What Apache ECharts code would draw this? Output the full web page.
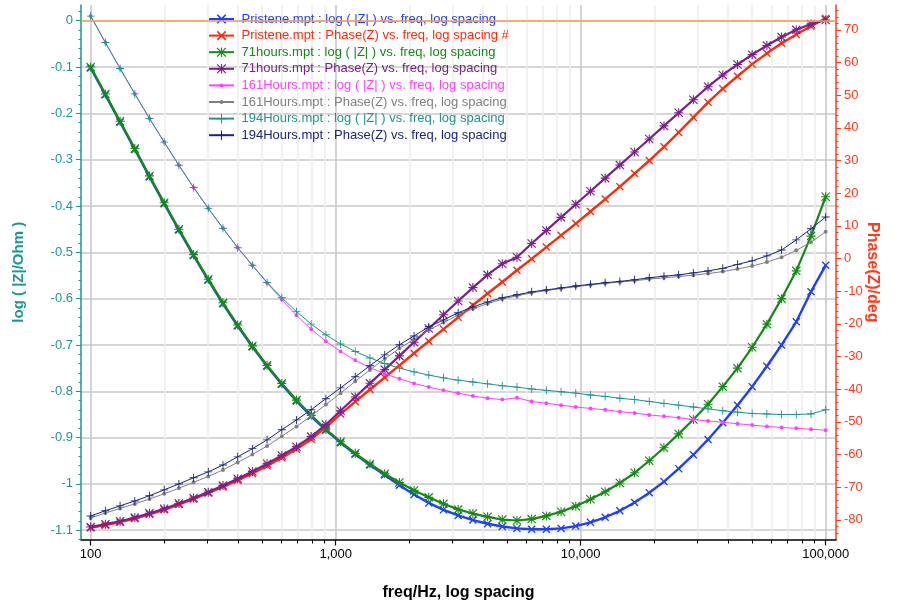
<!DOCTYPE html>
<html><head><meta charset="utf-8">
<script src="https://cdn.jsdelivr.net/npm/echarts@6/dist/echarts.min.js"></script>
<style>html,body{margin:0;padding:0;background:#fff}#c{width:905px;height:602px}</style>
</head><body><div id="c"></div>
<script>
// ---------- data ----------
const freq = [100, 114.8, 131.8, 151.4, 173.8, 199.5, 229.1, 263.0, 302.0, 346.7,
  398.1, 457.1, 524.8, 602.6, 691.8, 794.3, 912.0, 1047, 1202, 1380,
  1585, 1820, 2089, 2399, 2754, 3162, 3631, 4169, 4786, 5495,
  6310, 7244, 8318, 9550, 10965, 12589, 14454, 16596, 19055, 21878,
  25119, 28840, 33113, 38019, 43652, 50119, 57544, 66069, 75858, 87096, 100000];

const seriesNames = [
  'Pristene.mpt : log ( |Z| ) vs. freq, log spacing',
  'Pristene.mpt : Phase(Z) vs. freq, log spacing #',
  '71hours.mpt : log ( |Z| ) vs. freq, log spacing',
  '71hours.mpt : Phase(Z) vs. freq, log spacing',
  '161Hours.mpt : log ( |Z| ) vs. freq, log spacing',
  '161Hours.mpt : Phase(Z) vs. freq, log spacing',
  '194Hours.mpt : log ( |Z| ) vs. freq, log spacing',
  '194Hours.mpt : Phase(Z) vs. freq, log spacing'
];

const pristeneLogZ = [-0.102, -0.160, -0.219, -0.278, -0.337, -0.395, -0.452, -0.507, -0.560, -0.611,
  -0.659, -0.704, -0.746, -0.785, -0.821, -0.854, -0.884, -0.911, -0.936, -0.959,
  -0.981, -1.003, -1.023, -1.041, -1.056, -1.068, -1.078, -1.086, -1.092, -1.096,
  -1.098, -1.098, -1.096, -1.091, -1.083, -1.072, -1.058, -1.040, -1.019, -0.995,
  -0.967, -0.937, -0.904, -0.868, -0.830, -0.790, -0.746, -0.700, -0.650, -0.585, -0.528];

const pristenePhase = [-82.4, -81.6, -80.7, -79.6, -78.3, -76.9, -75.3, -73.6, -71.8, -69.9,
  -67.9, -65.8, -63.5, -61.0, -58.4, -55.3, -51.6, -47.6, -43.8, -40.1,
  -36.4, -32.7, -29.0, -25.3, -21.6, -18.0, -14.3, -10.7, -7.2, -3.6,
  -0.1, 3.5, 7.1, 10.7, 14.4, 18.2, 22.0, 26.0, 30.0, 34.2,
  38.6, 43.2, 47.8, 52.0, 55.8, 59.5, 62.8, 65.9, 68.6, 71.1, 73.5];

const h71LogZ = [-0.100, -0.158, -0.217, -0.276, -0.335, -0.393, -0.450, -0.505, -0.558, -0.609,
  -0.657, -0.702, -0.744, -0.783, -0.819, -0.852, -0.882, -0.909, -0.934, -0.957,
  -0.978, -0.997, -1.014, -1.029, -1.043, -1.055, -1.064, -1.071, -1.077, -1.079,
  -1.076, -1.069, -1.060, -1.048, -1.033, -1.017, -0.998, -0.976, -0.950, -0.922,
  -0.892, -0.861, -0.828, -0.790, -0.750, -0.705, -0.655, -0.600, -0.540, -0.465, -0.380];

const h71Phase = [-82.2, -81.3, -80.4, -79.3, -78.0, -76.6, -75.0, -73.3, -71.5, -69.5,
  -67.4, -65.2, -62.8, -60.3, -57.6, -54.5, -50.8, -46.6, -42.4, -38.2,
  -34.0, -29.8, -25.6, -21.4, -17.2, -13.0, -8.9, -5.0, -1.6, 0.4,
  4.6, 8.6, 12.6, 16.6, 20.6, 24.6, 28.6, 32.6, 36.6, 40.6,
  44.6, 48.6, 52.6, 56.2, 59.4, 62.4, 65.2, 67.8, 70.0, 71.8, 73.0];

const h161LogZ = [0.010, -0.047, -0.103, -0.158, -0.211, -0.262, -0.312, -0.360, -0.405, -0.448,
  -0.490, -0.528, -0.566, -0.602, -0.636, -0.666, -0.692, -0.714, -0.733, -0.749,
  -0.762, -0.773, -0.783, -0.791, -0.798, -0.804, -0.810, -0.815, -0.818, -0.814,
  -0.822, -0.826, -0.830, -0.834, -0.837, -0.840, -0.844, -0.847, -0.851, -0.854,
  -0.857, -0.861, -0.864, -0.867, -0.870, -0.873, -0.876, -0.878, -0.880, -0.882, -0.884];

const h161Phase = [-79.4, -77.9, -76.5, -75.1, -73.6, -72.0, -70.3, -68.5, -66.7, -64.7,
  -62.4, -60.0, -57.4, -54.4, -51.4, -48.2, -44.7, -41.2, -37.6, -34.1,
  -30.7, -27.5, -24.7, -21.9, -19.6, -17.3, -15.4, -13.8, -12.4, -11.4,
  -10.5, -9.8, -9.2, -8.6, -8.1, -7.6, -7.2, -6.8, -6.3, -5.9,
  -5.5, -5.1, -4.6, -4.0, -3.2, -2.3, -1.1, 0.4, 2.5, 5.0, 8.2];

const h194LogZ = [0.010, -0.047, -0.103, -0.158, -0.211, -0.262, -0.312, -0.360, -0.405, -0.448,
  -0.490, -0.528, -0.565, -0.598, -0.628, -0.655, -0.678, -0.698, -0.714, -0.728,
  -0.740, -0.750, -0.758, -0.765, -0.771, -0.776, -0.780, -0.784, -0.788, -0.791,
  -0.795, -0.798, -0.801, -0.804, -0.808, -0.811, -0.815, -0.818, -0.822, -0.826,
  -0.830, -0.834, -0.838, -0.842, -0.845, -0.848, -0.849, -0.850, -0.850, -0.849, -0.840];

const h194Phase = [-78.8, -77.2, -75.7, -74.2, -72.6, -70.8, -69.0, -67.1, -65.3, -63.2,
  -60.7, -58.2, -55.5, -52.4, -49.4, -46.3, -42.9, -39.6, -36.2, -32.8,
  -29.5, -26.4, -23.7, -20.9, -18.8, -16.6, -14.8, -13.3, -12.0, -11.1,
  -10.2, -9.6, -9.0, -8.4, -7.9, -7.4, -7.0, -6.5, -5.9, -5.4,
  -5.0, -4.4, -3.8, -3.0, -1.8, -0.7, 0.8, 2.6, 5.7, 9.1, 12.7];

const xTickLabels = [100, 1000, 10000, 100000];
const xMinorTicks = [200, 300, 400, 500, 600, 700, 800, 900,
  2000, 3000, 4000, 5000, 6000, 7000, 8000, 9000,
  20000, 30000, 40000, 50000, 60000, 70000, 80000, 90000];
const leftTickLabels = [0, -0.1, -0.2, -0.3, -0.4, -0.5, -0.6, -0.7, -0.8, -0.9, -1, -1.1];
const rightTickLabels = [70, 60, 50, 40, 30, 20, 10, 0, -10, -20, -30, -40, -50, -60, -70, -80];

// ---------- styles ----------
const FONT = 'Liberation Sans, Arial, sans-serif';
const TEAL_AXIS = '#1d9595';
const RED_AXIS = '#ff3a1a';
const colors = ['#1f3fff', '#ff2a0a', '#158a15', '#7d1f8c', '#ff40ff', '#808080', '#1f9490', '#1a2580'];

const SYM_X = 'path://M0,1.2L1.2,0L5,3.8L8.8,0L10,1.2L6.2,5L10,8.8L8.8,10L5,6.2L1.2,10L0,8.8L3.8,5Z';
const SYM_AST = 'path://M4.4,0L5.6,0L5.6,10L4.4,10Z M0,4.4L10,4.4L10,5.6L0,5.6Z M0,0.9L0.9,0L10,9.1L9.1,10Z M9.1,0L10,0.9L0.9,10L0,9.1Z';
const SYM_PLUS = 'path://M4.45,0L5.55,0L5.55,4.45L10,4.45L10,5.55L5.55,5.55L5.55,10L4.45,10L4.45,5.55L0,5.55L0,4.45L4.45,4.45Z';
const SYM_DOT = 'path://M0,0L0.01,0L0.01,0.01Z M10,10L10.01,10L10.01,10.01Z M3,5A2,2,0,1,0,7,5A2,2,0,1,0,3,5Z';

const leftMinor = [];
for (let k = 2; k >= -56; k--) leftMinor.push(+(k * 0.02).toFixed(2));
const rightMinor = [];
for (let k = 38; k >= -42; k--) rightMinor.push(k * 2);

const X_MIN = 91.3, X_MAX = 110200;
const L_MIN = -1.12, L_MAX = 0.034;
const R_MIN = -86, R_MAX = 77.6;

function pairs(vals) { return freq.map((f, i) => [f, vals[i]]); }

function mk(idx, vals, yIdx, symbol, size, width) {
  return {
    name: seriesNames[idx], type: 'line', xAxisIndex: 0, yAxisIndex: yIdx,
    data: pairs(vals), symbol: symbol, symbolSize: size, showAllSymbol: true,
    lineStyle: { color: colors[idx], width: width },
    itemStyle: { color: colors[idx], borderWidth: 0 },
    emphasis: { disabled: true }, animation: false, z: 3 + idx * 0.01
  };
}

const series = [
  mk(0, pristeneLogZ, 0, SYM_X, 8, 2.4),
  mk(1, pristenePhase, 1, SYM_X, 8, 2.4),
  mk(2, h71LogZ, 0, SYM_AST, 9, 2.2),
  mk(3, h71Phase, 1, SYM_AST, 9, 2.2),
  mk(4, h161LogZ, 0, SYM_DOT, 10, 1),
  mk(5, h161Phase, 1, SYM_DOT, 10, 1),
  mk(6, h194LogZ, 0, SYM_PLUS, 8, 1),
  mk(7, h194Phase, 1, SYM_PLUS, 8, 1)
];
series[0].markLine = {
  silent: true, symbol: 'none', animation: false,
  label: { show: false },
  lineStyle: { color: '#f7a054', width: 1.6, type: 'solid' },
  data: [{ yAxis: 0 }]
};

const gridRect = { left: 81, right: 69, top: 5, bottom: 62.5, containLabel: false, outerBoundsMode: 'none' };

const option = {
  backgroundColor: '#ffffff',
  animation: false,
  textStyle: { fontFamily: FONT },
  grid: [Object.assign({}, gridRect), Object.assign({}, gridRect)],
  legend: {
    orient: 'vertical', left: 208, top: 12.5, padding: 0,
    itemWidth: 25, itemHeight: 12, itemGap: 3.6,
    selectedMode: false,
    textStyle: { fontSize: 13, fontFamily: FONT, padding: [0, 0, 0, 2.5] },
    data: seriesNames.map((n, i) => ({ name: n, textStyle: { color: colors[i] } }))
  },
  xAxis: [
    {
      type: 'log', gridIndex: 0, min: X_MIN, max: X_MAX, position: 'bottom',
      axisLine: { onZero: false, lineStyle: { color: '#000', width: 1.5 } },
      axisTick: { customValues: xTickLabels, length: 6, lineStyle: { color: '#000', width: 1.2 } },
      axisLabel: { customValues: xTickLabels, color: '#000', fontSize: 13, fontFamily: FONT, margin: 8,
        formatter: v => Number(v).toLocaleString('en-US') },
      splitLine: { show: true, lineStyle: { color: '#c9c9c9', width: 1.6 } },
      minorTick: { show: false }, minorSplitLine: { show: false },
      name: 'freq/Hz, log spacing', nameLocation: 'middle', nameGap: 45, nameMoveOverlap: false,
      nameTextStyle: { fontWeight: 'bold', fontSize: 16, color: '#000', fontFamily: FONT }
    },
    {
      type: 'log', gridIndex: 1, min: X_MIN, max: X_MAX, position: 'bottom',
      axisLine: { show: false, onZero: false },
      axisTick: { customValues: xMinorTicks, length: 4, lineStyle: { color: '#000', width: 1 } },
      axisLabel: { show: false },
      splitLine: { show: true, lineStyle: { color: '#ececec', width: 1.5 } }
    }
  ],
  yAxis: [
    {
      type: 'value', gridIndex: 0, position: 'left', min: L_MIN, max: L_MAX,
      axisLine: { show: true, onZero: false, lineStyle: { color: TEAL_AXIS, width: 1.5 } },
      axisTick: { show: true, customValues: leftTickLabels, length: 5, lineStyle: { color: TEAL_AXIS } },
      axisLabel: { customValues: leftTickLabels, color: TEAL_AXIS, fontSize: 13, fontFamily: FONT, margin: 8,
        formatter: v => String(+(+v).toFixed(1)) },
      splitLine: { show: true, lineStyle: { color: '#c9c9c9', width: 1.6 } },
      name: 'log ( |Z|/Ohm )', nameLocation: 'middle', nameGap: 55, nameRotate: 90, nameMoveOverlap: false,
      nameTextStyle: { fontWeight: 'bold', fontSize: 15, color: TEAL_AXIS, fontFamily: FONT }
    },
    {
      type: 'value', gridIndex: 0, position: 'right', min: R_MIN, max: R_MAX,
      axisLine: { show: true, onZero: false, lineStyle: { color: RED_AXIS, width: 1.5 } },
      axisTick: { show: true, customValues: rightTickLabels, length: 5, lineStyle: { color: RED_AXIS } },
      axisLabel: { customValues: rightTickLabels, color: RED_AXIS, fontSize: 13, fontFamily: FONT, margin: 8 },
      splitLine: { show: false },
      name: 'Phase(Z)/deg', nameLocation: 'middle', nameGap: 28, nameRotate: -90, nameMoveOverlap: false,
      nameTextStyle: { fontWeight: 'bold', fontSize: 16, color: RED_AXIS, fontFamily: FONT }
    },
    {
      type: 'value', gridIndex: 1, position: 'left', min: L_MIN, max: L_MAX,
      axisLine: { show: false, onZero: false },
      axisTick: { show: true, customValues: leftMinor, length: 2.5, lineStyle: { color: TEAL_AXIS } },
      axisLabel: { show: false }, splitLine: { show: false }
    },
    {
      type: 'value', gridIndex: 1, position: 'right', min: R_MIN, max: R_MAX,
      axisLine: { show: false, onZero: false },
      axisTick: { show: true, customValues: rightMinor, length: 2.5, lineStyle: { color: RED_AXIS } },
      axisLabel: { show: false }, splitLine: { show: false }
    }
  ],
  series: series
};

const chart = echarts.init(document.getElementById('c'), null, { renderer: 'canvas' });
chart.setOption(option);
</script>
</body></html>
